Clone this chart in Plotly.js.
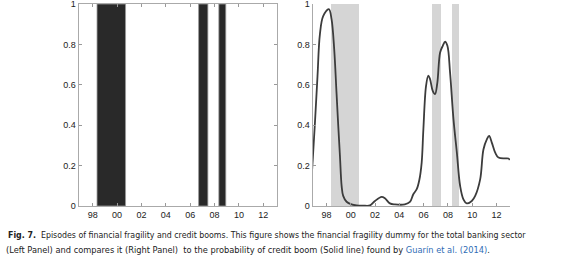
<!DOCTYPE html>
<html>
<head>
<meta charset="utf-8">
<script src="https://cdn.plot.ly/plotly-3.0.1.min.js"></script>
<style>
html,body{margin:0;padding:0;background:#fff;}
#chart{width:580px;height:260px;}
</style>
</head>
<body>
<div id="chart"></div>
<script>
// Financial fragility episodes (start / end, in years)
var episodeStart = [1998.36, 2006.69, 2008.35];
var episodeEnd   = [2000.70, 2007.45, 2008.92];

// Probability of credit boom (Guarín et al., 2014)
var boomYear = [1996.81, 1997.03, 1997.25, 1997.45, 1997.72, 1998.19, 1998.41, 1998.63, 1998.82, 1998.96,
                1999.10, 1999.24, 1999.37, 1999.65, 2000.06, 2000.47, 2001.00, 2001.58, 2001.99, 2002.54,
                2002.81, 2003.22, 2003.63, 2004.45, 2004.87, 2005.15, 2005.43, 2005.65, 2005.84, 2005.98,
                2006.20, 2006.39, 2006.53, 2006.75, 2006.94, 2007.13, 2007.36, 2007.58, 2007.77, 2007.96,
                2008.18, 2008.46, 2008.74, 2009.01, 2009.28, 2009.56, 2009.97, 2010.25, 2010.66, 2010.93,
                2011.21, 2011.40, 2011.62, 2011.90, 2012.17, 2012.72, 2012.99, 2013.10];
var boomProb = [0.18, 0.40, 0.64, 0.85, 0.94, 0.975, 0.925, 0.775, 0.56, 0.40,
                0.25, 0.10, 0.05, 0.021, 0.008, 0.003, 0.002, 0.003, 0.025, 0.045,
                0.038, 0.013, 0.008, 0.008, 0.02, 0.058, 0.083, 0.13, 0.215, 0.38,
                0.595, 0.645, 0.628, 0.57, 0.554, 0.61, 0.76, 0.793, 0.813, 0.793,
                0.66, 0.43, 0.264, 0.099, 0.033, 0.013, 0.025, 0.05, 0.132, 0.28,
                0.33, 0.347, 0.314, 0.264, 0.24, 0.236, 0.235, 0.228];

var xTickVals = [1998, 2000, 2002, 2004, 2006, 2008, 2010, 2012];
var xTickText = ['98', '00', '02', '04', '06', '08', '10', '12'];
var yTickVals = [0, 0.2, 0.4, 0.6, 0.8, 1];
var yTickText = ['0', '0.2', '0.4', '0.6', '0.8', '1'];

var epMid = episodeStart.map(function(s, i){ return (s + episodeEnd[i]) / 2; });
var epWidth = episodeStart.map(function(s, i){ return episodeEnd[i] - s; });
var epOnes = episodeStart.map(function(){ return 1; });

var traces = [
  {type:'bar', x:epMid, y:epOnes, width:epWidth, xaxis:'x', yaxis:'y',
   marker:{color:'#292929', line:{color:'#9a9a9a', width:0.8}}, hoverinfo:'skip'},
  {type:'bar', x:epMid, y:epOnes, width:epWidth, xaxis:'x2', yaxis:'y2',
   marker:{color:'#d5d5d5', line:{width:0}}, hoverinfo:'skip'},
  {type:'scatter', mode:'lines', x:boomYear, y:boomProb, xaxis:'x2', yaxis:'y2',
   line:{color:'#3c3c3c', width:1.8, shape:'spline', smoothing:1}, hoverinfo:'skip'}
];

var tickFont = {family:'Liberation Sans, Arial, sans-serif', size:9, color:'#222'};
var xr = [1996.84, 2013.12];
var yDom = [54/260, 256/260];
var yr = [0, 1];

function xax(domain, mirror){
  return {domain:domain, range:xr, tickmode:'array', tickvals:xTickVals, ticktext:xTickText,
    ticks:'inside', ticklen:3, tickcolor:'#999', showline:true, linecolor:'#aaa', linewidth:1,
    mirror:mirror, showgrid:false, zeroline:false, tickfont:tickFont, automargin:false,
    ticklabeloverflow:'allow', fixedrange:true};
}
function yax(anchor, mirror){
  return {domain:yDom, range:yr, anchor:anchor, tickmode:'array', tickvals:yTickVals, ticktext:yTickText,
    ticks:'inside', ticklen:3, tickcolor:'#999', showline:true, linecolor:'#aaa', linewidth:1,
    mirror:mirror, showgrid:false, zeroline:false, tickfont:tickFont, automargin:false,
    ticklabeloverflow:'allow', fixedrange:true};
}

var capFont1 = {family:'DejaVu Sans Condensed, sans-serif', size:8.75, color:'#222'};
var capFont2 = {family:'DejaVu Sans Condensed, sans-serif', size:9.2, color:'#222'};

var layout = {
  width:580, height:260,
  margin:{l:0, r:0, t:0, b:0},
  paper_bgcolor:'#fff', plot_bgcolor:'#fff',
  showlegend:false, bargap:0,
  xaxis: xax([78.5/580, 277/580], 'ticks'),
  yaxis: yax('x', 'ticks'),
  xaxis2: Object.assign(xax([312.5/580, 510/580], false), {anchor:'y2'}),
  yaxis2: yax('x2', false),
  annotations:[
    {xref:'paper', yref:'paper', x:6/580, y:(260-234.5)/260, xanchor:'left', yanchor:'middle', showarrow:false,
     font:capFont1, align:'left',
     text:'<b>Fig. 7.</b>  Episodes of financial fragility and credit booms. This figure shows the financial fragility dummy for the total banking sector'},
    {xref:'paper', yref:'paper', x:4/580, y:(260-249)/260, xanchor:'left', yanchor:'middle', showarrow:false,
     font:capFont2, align:'left',
     text:'(Left Panel) and compares it (Right Panel)  to the probability of credit boom (Solid line) found by <span style="color:#2f6db5">Guarín et al. (2014)</span>.'}
  ]
};

Plotly.newPlot('chart', traces, layout, {staticPlot:true, displayModeBar:false});
</script>
</body>
</html>
